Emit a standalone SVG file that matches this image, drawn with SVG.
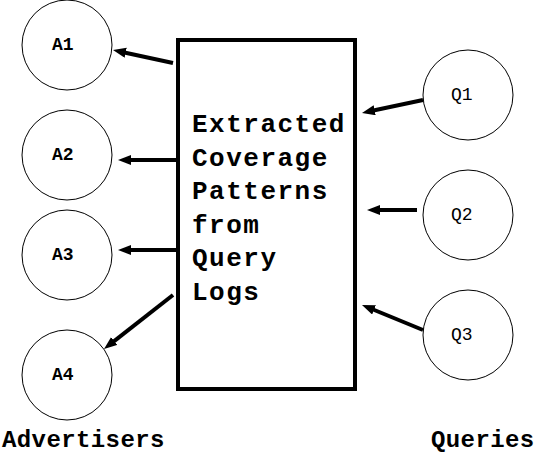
<svg xmlns="http://www.w3.org/2000/svg" width="539" height="458" viewBox="0 0 539 458">
<style>
.node circle{fill:#fff;stroke:#000;stroke-width:1}
.lbl{font-family:"Liberation Mono","Courier New",monospace;font-size:18px;fill:#000}
.b{font-weight:bold}
.big{font-family:"Liberation Mono","Courier New",monospace;font-size:26px;font-weight:bold;letter-spacing:1.5px;fill:#000}
.title{font-family:"Liberation Mono","Courier New",monospace;font-size:24px;font-weight:bold;letter-spacing:0.4px;fill:#000}
.conn line{stroke:#000;stroke-width:4;marker-end:url(#ah)}
</style>
<defs>
<marker id="ah" markerUnits="userSpaceOnUse" markerWidth="14" markerHeight="11" refX="5" refY="5" orient="auto">
<path d="M0,0 L13,5 L0,10 z" fill="#000"/>
</marker>
</defs>
<rect width="539" height="458" fill="#fff"/>
<g id="A1" class="node"><circle cx="67" cy="45" r="45"/><text class="lbl b" x="52" y="50">A1</text></g>
<g id="A2" class="node"><circle cx="67" cy="155" r="45"/><text class="lbl b" x="52" y="160">A2</text></g>
<g id="A3" class="node"><circle cx="67" cy="255" r="45"/><text class="lbl b" x="52" y="260">A3</text></g>
<g id="A4" class="node"><circle cx="67" cy="375" r="45"/><text class="lbl b" x="52" y="380">A4</text></g>
<g id="Q1" class="node"><circle cx="468" cy="95" r="45"/><text class="lbl" x="451" y="100">Q1</text></g>
<g id="Q2" class="node"><circle cx="468" cy="215" r="45"/><text class="lbl" x="451" y="220">Q2</text></g>
<g id="Q3" class="node"><circle cx="468" cy="335" r="45"/><text class="lbl" x="451" y="340">Q3</text></g>
<g id="box">
<rect x="178" y="40" width="177" height="349" fill="#fff" stroke="#000" stroke-width="4"/>
<text class="big" x="192"><tspan x="192" y="132">Extracted</tspan><tspan x="192" y="165.6">Coverage</tspan><tspan x="192" y="199.2">Patterns</tspan><tspan x="192" y="232.8">from</tspan><tspan x="192" y="266.4">Query</tspan><tspan x="192" y="300">Logs</tspan></text>
</g>
<g id="connectors" class="conn">
<line x1="173" y1="63" x2="120.8" y2="51.7"/>
<line x1="176" y1="160" x2="126" y2="160"/>
<line x1="176" y1="250" x2="126" y2="250"/>
<line x1="173" y1="295" x2="110.3" y2="344.1"/>
<line x1="423" y1="100" x2="369.8" y2="111.3"/>
<line x1="417" y1="210" x2="375" y2="210"/>
<line x1="423" y1="330" x2="369.4" y2="308"/>
</g>
<text class="title" x="2" y="447">Advertisers</text>
<text class="title" x="431" y="447">Queries</text>
</svg>
